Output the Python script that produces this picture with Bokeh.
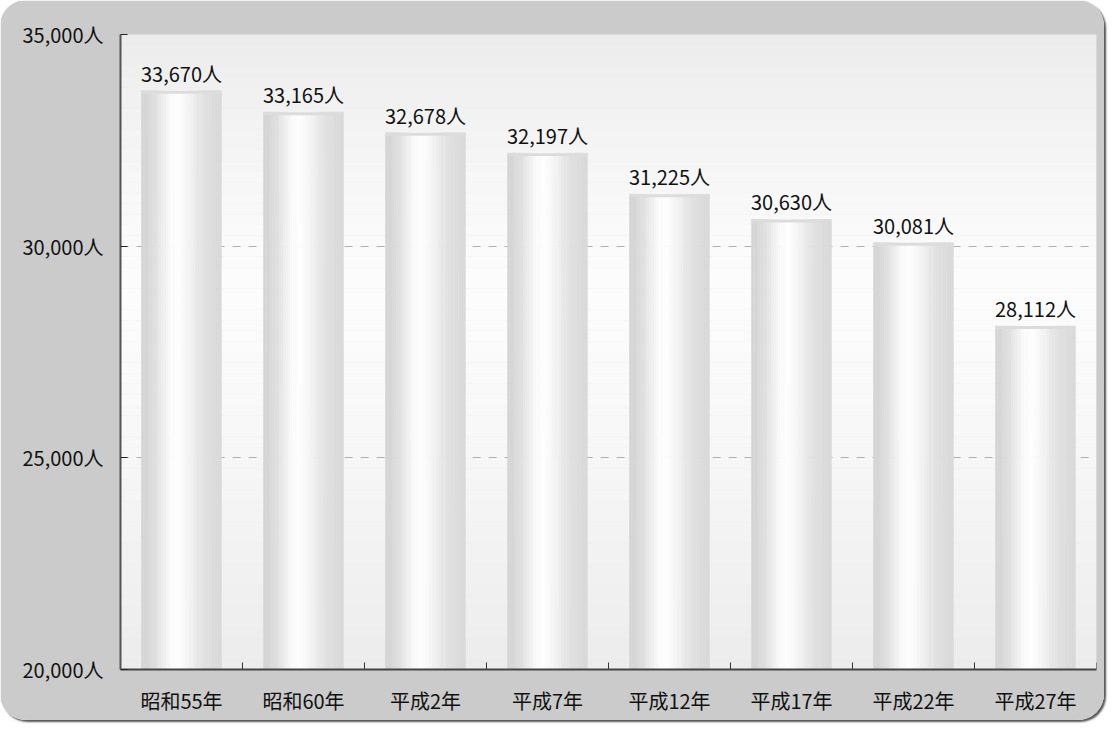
import math
from bokeh.plotting import figure
from bokeh.models import ColumnDataSource, FactorRange, Range1d, FixedTicker, BoxAnnotation
from bokeh.transform import dodge
from bokeh.core.properties import value
from bokeh.embed import file_html
from bokeh.resources import INLINE

categories = ["昭和55年", "昭和60年", "平成2年", "平成7年", "平成12年", "平成17年", "平成22年", "平成27年"]
population = [33670, 33165, 32678, 32197, 31225, 30630, 30081, 28112]
value_labels = [f"{v:,}人" for v in population]
y_ticks = [20000, 25000, 30000, 35000]
y_tick_labels = ["20,000人", "25,000人", "30,000人", "35,000人"]

FONT = "Noto Sans CJK JP"

src = ColumnDataSource(dict(cat=categories, val=population, lab=value_labels))

p = figure(
    width=1104, height=720,
    x_range=FactorRange(*categories, range_padding=0),
    y_range=Range1d(20000, 35000),
    output_backend="svg", toolbar_location=None,
    min_border_left=120, min_border_right=8, min_border_top=34, min_border_bottom=51,
)
p.styles = {"border-radius": "26px", "overflow": "hidden", "box-shadow": "2px 2px 2px #555"}
p.border_fill_color = "#cbcbcb"
p.background_fill_color = "#ededed"
p.outline_line_color = "#d2d2d2"

# background vertical gradient of the plotting area
def bg_shade(y):
    peak = 29000.0
    if y >= peak:
        t = (y - peak) / (35000 - peak)
    else:
        t = (peak - y) / (peak - 20000)
    return int(round(252 - 16 * (t ** 1.3)))

step = 250
for k in range(int((35000 - 20000) / step)):
    b = 20000 + k * step
    g = bg_shade(b + step / 2)
    c = "#%02x%02x%02x" % (g, g, g)
    p.add_layout(BoxAnnotation(bottom=b, top=b + step, fill_color=c, fill_alpha=1.0,
                               line_color=None, level="image"))

# bars with cylinder-like horizontal gradient
W = 0.655
N = 36
def bar_shade(t):
    c = 0.43
    if t < c:
        base, s = 211, 0.24
    else:
        base, s = 217, 0.30
    return int(round(base + (253 - base) * math.exp(-((t - c) / s) ** 2)))

for j in range(N):
    t = (j + 0.5) / N
    g = bar_shade(t)
    col = "#%02x%02x%02x" % (g, g, g)
    off = -W / 2 + (j + 0.5) * W / N
    p.vbar(x=dodge("cat", off, range=p.x_range), top="val", bottom=20000, width=W / N,
           source=src, fill_color=col, line_color=col, line_width=0.6)

# light cap at the top of each bar
p.vbar(x="cat", top="val", bottom=dodge("val", -70), width=W, source=src,
       fill_color="#dcdcdc", line_color=None)

# value labels
p.text(x="cat", y="val", text="lab", source=src, text_font=value(FONT),
       text_font_size="20px", text_align="center", text_baseline="bottom",
       y_offset=-3, text_color="#111111")

# category boundary ticks on the x axis
p.ray(x=dodge("cat", 0.5, range=p.x_range), y=20000, source=src, angle=math.pi / 2,
      length=7, length_units="screen", line_color="#333333", line_width=1)

# grid
p.xgrid.visible = False
p.ygrid.ticker = FixedTicker(ticks=[25000, 30000])
p.ygrid.grid_line_color = "#b0b0b0"
p.ygrid.grid_line_dash = "8 8"
p.ygrid.grid_line_width = 1

# y axis
p.yaxis.ticker = FixedTicker(ticks=y_ticks)
p.yaxis.major_label_overrides = {t: l for t, l in zip(y_ticks, y_tick_labels)}
p.yaxis.major_tick_in = 7
p.yaxis.major_tick_out = 0
p.yaxis.minor_tick_line_color = None
p.yaxis.major_tick_line_color = "#222222"
p.yaxis.axis_line_color = "#555555"
p.yaxis.axis_line_width = 2
p.yaxis.major_label_standoff = 17
p.yaxis.major_label_text_font = FONT
p.yaxis.major_label_text_font_size = "20px"
p.yaxis.major_label_text_color = "#111111"

# x axis
p.xaxis.major_tick_line_color = None
p.xaxis.minor_tick_line_color = None
p.xaxis.axis_line_color = "#444444"
p.xaxis.axis_line_width = 2
p.xaxis.major_label_standoff = 10
p.xaxis.major_label_text_font = FONT
p.xaxis.major_label_text_font_size = "20px"
p.xaxis.major_label_text_color = "#111111"

open("out.html", "w").write(file_html(p, INLINE))
